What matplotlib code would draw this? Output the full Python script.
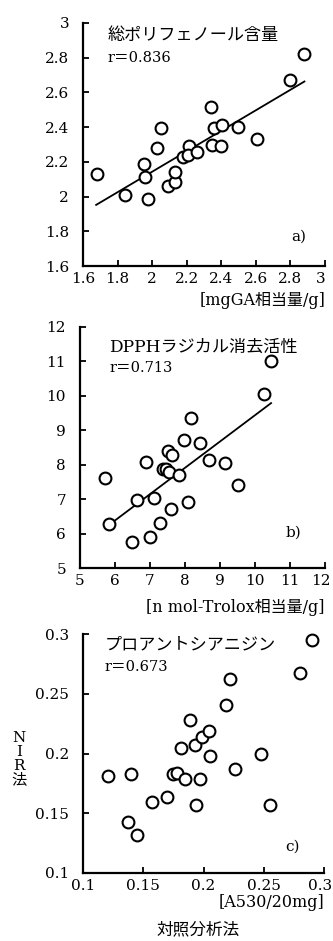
import numpy as np
import matplotlib
matplotlib.use("Agg")
import matplotlib.pyplot as plt
import matplotlib.transforms as mtransforms
from matplotlib.ticker import FormatStrFormatter

plt.rcParams['font.family'] = ['DejaVu Serif', 'Noto Sans CJK JP']

W, H = 333, 941

# a) total polyphenol
a_x = [1.68, 1.845, 1.977, 1.952, 1.961, 2.028, 2.051, 2.092, 2.13, 2.134, 2.181,
       2.216, 2.21, 2.262, 2.34, 2.348, 2.357, 2.403, 2.397, 2.497, 2.604, 2.799, 2.881]
a_y = [2.13, 2.01, 1.987, 2.189, 2.11, 2.278, 2.394, 2.061, 2.086, 2.141, 2.227,
       2.29, 2.242, 2.257, 2.516, 2.295, 2.394, 2.415, 2.29, 2.402, 2.333, 2.674, 2.823]
a_fit_x = [1.676, 2.881]
a_fit_y = [1.952, 2.663]

# b) DPPH radical scavenging
b_x = [5.72, 5.84, 6.49, 6.64, 6.89, 7.01, 7.12, 7.28, 7.38, 7.47, 7.54, 7.52, 7.62,
       7.6, 7.83, 7.97, 8.08, 8.18, 8.43, 8.69, 9.15, 9.51, 10.26, 10.46]
b_y = [7.62, 6.27, 5.76, 6.97, 8.08, 5.91, 7.04, 6.30, 7.87, 7.87, 7.80, 8.39, 8.28,
       6.70, 7.71, 8.72, 6.91, 9.37, 8.62, 8.15, 8.04, 7.42, 10.04, 11.02]
b_fit_x = [5.75, 10.46]
b_fit_y = [6.19, 9.79]

# c) proanthocyanidin
c_x = [0.121, 0.137, 0.140, 0.145, 0.157, 0.170, 0.175, 0.178, 0.181, 0.185, 0.189, 0.193,
       0.194, 0.197, 0.199, 0.2045, 0.205, 0.219, 0.222, 0.2265, 0.248, 0.255, 0.280, 0.290]
c_y = [0.181, 0.143, 0.183, 0.132, 0.159, 0.164, 0.183, 0.184, 0.205, 0.179, 0.228, 0.207,
       0.157, 0.179, 0.214, 0.219, 0.198, 0.241, 0.262, 0.187, 0.200, 0.157, 0.267, 0.295]


def rect(left, right, top, bottom):
    return [left / W, 1 - bottom / H, (right - left) / W, (bottom - top) / H]


fig = plt.figure(figsize=(W / 100, H / 100), dpi=100)

panels = [
    dict(rect=rect(83, 325, 23, 266), x=a_x, y=a_y, fx=a_fit_x, fy=a_fit_y,
         xlim=(1.6, 3), ylim=(1.6, 3), xt=np.arange(1.6, 3.01, 0.2), yt=np.arange(1.6, 3.01, 0.2),
         title='総ポリフェノール含量', r='r＝0.836', tag='a)', xlabel='[mgGA相当量/g]',
         tpos=(0.1, 0.95, 0.856), tagpos=(0.89, 0.12), xlab_y=-0.14),
    dict(rect=rect(80, 325, 327, 568), x=b_x, y=b_y, fx=b_fit_x, fy=b_fit_y,
         xlim=(5, 12), ylim=(5, 12), xt=np.arange(5, 13, 1), yt=np.arange(5, 13, 1),
         title='DPPHラジカル消去活性', r='r＝0.713', tag='b)', xlabel='[n mol-Trolox相当量/g]',
         tpos=(0.12, 0.917, 0.83), tagpos=(0.87, 0.145), xlab_y=-0.165),
    dict(rect=rect(83, 324, 634, 873), x=c_x, y=c_y, fx=None, fy=None,
         xlim=(0.1, 0.3), ylim=(0.1, 0.3), xt=np.arange(0.1, 0.31, 0.05), yt=np.arange(0.1, 0.31, 0.05),
         title='プロアントシアニジン', r='r＝0.673', tag='c)', xlabel='[A530/20mg]',
         tpos=(0.09, 0.954, 0.862), tagpos=(0.87, 0.11), xlab_y=-0.125),
]

for p in panels:
    ax = fig.add_axes(p['rect'])
    ax.plot(p['x'], p['y'], 'o', ms=8.5, mfc='white', mec='black', mew=1.5, clip_on=False, zorder=3)
    if p['fx'] is not None:
        ax.plot(p['fx'], p['fy'], color='black', lw=1.3, zorder=2)
    ax.set_xlim(*p['xlim'])
    ax.set_ylim(*p['ylim'])
    ax.set_xticks(p['xt'])
    ax.set_yticks(p['yt'])
    ax.xaxis.set_major_formatter(FormatStrFormatter('%g'))
    ax.yaxis.set_major_formatter(FormatStrFormatter('%g'))
    ax.tick_params(direction='in', length=4, width=1.3, labelsize=11)
    ax.tick_params(axis='y', pad=10)
    ax.tick_params(axis='x', pad=4)
    for s in ['top', 'right']:
        ax.spines[s].set_visible(False)
    for s in ['left', 'bottom']:
        ax.spines[s].set_linewidth(1.6)
    # keep the rightmost tick label inside the canvas
    last = ax.get_xticklabels()[-1]
    last.set_transform(last.get_transform() + mtransforms.ScaledTranslation(-3 / 72, 0, fig.dpi_scale_trans))
    tx, ty1, ty2 = p['tpos']
    ax.text(tx, ty1, p['title'], transform=ax.transAxes, fontsize=12.3, va='center', ha='left')
    ax.text(tx, ty2, p['r'], transform=ax.transAxes, fontsize=10.5, va='center', ha='left')
    ax.text(p['tagpos'][0], p['tagpos'][1], p['tag'], transform=ax.transAxes, fontsize=11,
            va='center', ha='center')
    ax.text(1.0, p['xlab_y'], p['xlabel'], transform=ax.transAxes, fontsize=11.5, va='center', ha='right')

fig.text(19 / W, 1 - 759 / H, 'N\nI\nR\n法', fontsize=11, ha='center', va='center', linespacing=1.0)
fig.text(198 / W, 1 - 930 / H, '対照分析法', fontsize=12, ha='center', va='center')

fig.savefig('out.png', dpi=100)
